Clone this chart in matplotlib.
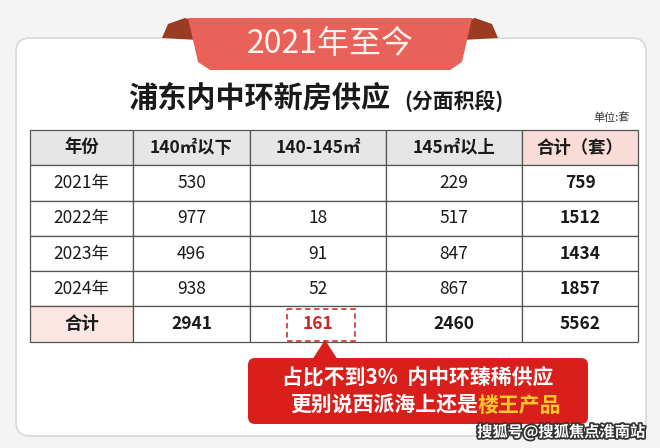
import matplotlib
matplotlib.use("Agg")
import matplotlib.pyplot as plt
from matplotlib.patches import FancyBboxPatch, Rectangle, Polygon
import matplotlib.patheffects as pe

plt.rcParams['font.family'] = ['Noto Sans CJK SC', 'DejaVu Sans']

headers = ["年份", "140㎡以下", "140-145㎡", "145㎡以上", "合计（套）"]
years = ["2021年", "2022年", "2023年", "2024年", "合计"]
below140 = ["530", "977", "496", "938", "2941"]
mid140_145 = ["", "18", "91", "52", "161"]
above145 = ["229", "517", "847", "867", "2460"]
totals = ["759", "1512", "1434", "1857", "5562"]

fig = plt.figure(figsize=(6.6, 4.48), dpi=100)
ax = fig.add_axes([0, 0, 1, 1])
ax.set_xlim(0, 660); ax.set_ylim(448, 0); ax.axis('off')
fig.patch.set_facecolor('#f4f4f4')

# card
ax.add_patch(FancyBboxPatch((16, 38), 630, 398, boxstyle="round,pad=0,rounding_size=14",
                            fc='white', ec='#d8d8d8', lw=1.2, zorder=1))
# ribbon folds
ax.add_patch(Polygon([(162, 38), (168, 24), (185, 18), (198, 22), (198, 40)], fc='#9a3b22', zorder=2))
ax.add_patch(Polygon([(498, 38), (492, 24), (475, 18), (462, 22), (462, 40)], fc='#9a3b22', zorder=2))
ax.add_patch(Polygon([(188, 18), (472, 18), (462, 62), (450, 70), (210, 70), (198, 62)],
                     fc='#e8625a', ec='none', zorder=3))
ax.text(330, 44, "2021年至今", ha='center', va='center', fontsize=23, color='#fff4ee', zorder=4)

ax.text(128, 98, "浦东内中环新房供应", ha='left', va='center', fontsize=21, color='#1a1a1a', weight='bold')
ax.text(404, 101, "(分面积段)", ha='left', va='center', fontsize=15, color='#1a1a1a', weight='bold')
ax.text(630, 118, "单位:套", ha='right', va='center', fontsize=8, color='#333333')

# table
xs = [30, 133, 250, 386, 522, 638]
top, rh = 130, 35.3
cols = [years, below140, mid140_145, above145, totals]
for r in range(6):
    y0 = top + r * rh
    for c in range(5):
        if r == 0:
            fc = '#f7dcd8' if c == 4 else '#e6e6e6'
        elif r == 5 and c == 0:
            fc = '#fbe6e3'
        else:
            fc = 'white'
        ax.add_patch(Rectangle((xs[c], y0), xs[c+1]-xs[c], rh, fc=fc, ec='#555555', lw=0.9, zorder=2))
        cx = (xs[c] + xs[c+1]) / 2
        cy = y0 + rh / 2
        if r == 0:
            txt, w, col = headers[c], 'bold', '#1a1a1a'
        else:
            txt = cols[c][r-1]
            w = 'bold' if (c == 4 or r == 5) else 'normal'
            col = '#1a1a1a'
            if r == 5 and c == 2:
                col = '#c62828'
        ax.text(cx, cy, txt, ha='center', va='center', fontsize=12.5, color=col, weight=w, zorder=4)

# dashed box around 161
ax.add_patch(Rectangle((287, top + 5*rh + 3), 68, rh - 4, fc='none', ec='#d64040', lw=1.3,
                       ls=(0, (3, 2)), zorder=5))

# callout
ax.add_patch(Polygon([(312, 360), (325, 340), (338, 360)], fc='#d91f1b', zorder=5))
ax.add_patch(FancyBboxPatch((248, 358), 340, 66, boxstyle="round,pad=0,rounding_size=7",
                            fc='#d91f1b', ec='none', zorder=5))
ax.text(418, 378, "占比不到3%  内中环臻稀供应", ha='center', va='center', fontsize=15,
        color='white', weight='bold', zorder=6)
ax.text(478, 405, "更别说西派海上还是", ha='right', va='center', fontsize=15,
        color='white', weight='bold', zorder=6)
ax.text(478, 405, "楼王产品", ha='left', va='center', fontsize=15,
        color='#ffc928', weight='bold', zorder=6)

ax.text(645, 432, "搜狐号@搜狐焦点淮南站", ha='right', va='center', fontsize=11, color='white',
        weight='bold', zorder=7,
        path_effects=[pe.withStroke(linewidth=2.5, foreground='#333333')])

fig.savefig("out.png", dpi=100, facecolor=fig.get_facecolor())
